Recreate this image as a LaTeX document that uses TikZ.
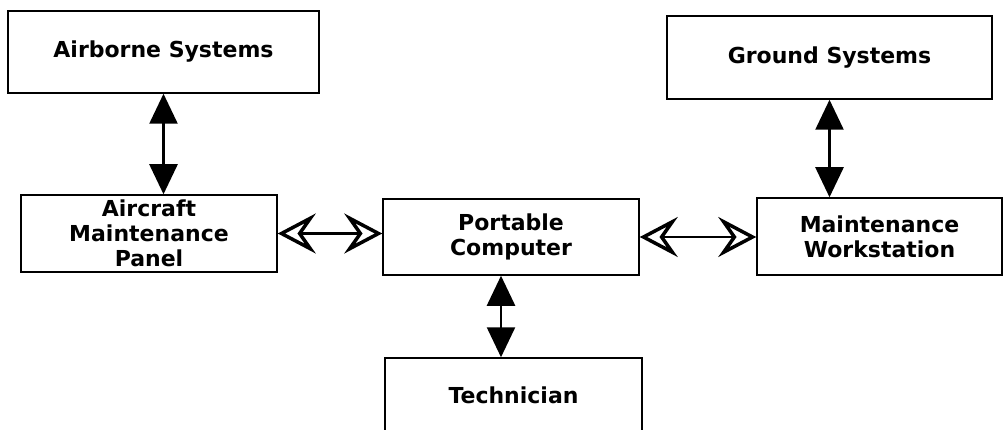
\documentclass[tikz,border=0pt]{standalone}
\usepackage{fontspec}
\setmainfont{DejaVu Sans}
\usetikzlibrary{arrows.meta}

\begin{document}
\begin{tikzpicture}[x=1pt,y=1pt]
% Draw the frame
\path[use as bounding box,fill=white] (0,0) rectangle (1003,429);
\clip (0,0) rectangle (1003,429);
\tikzstyle{unitbox}=[draw, line width=1.5pt, align=center, inner sep=0pt, font=\bfseries\fontsize{22}{25}\selectfont]
\tikzstyle{solidlink}=[line width=2.5pt, {Triangle[length=30pt,width=28pt]}-{Triangle[length=30pt,width=28pt]}]
\tikzstyle{openlink}=[line width=2.5pt, {Stealth[open,line width=3.5pt,length=38pt,width=40pt,inset=14pt]}-{Stealth[open,line width=3.5pt,length=38pt,width=40pt,inset=14pt]}]

% the boxes -- top row
\node[unitbox, minimum width=311pt, minimum height=82pt] (air) at (163.5,377) {Airborne Systems};
\node[unitbox, minimum width=325pt, minimum height=83pt] (gnd) at (829.5,371.5) {Ground Systems};

% the boxes -- middle row
\node[unitbox, minimum width=256pt, minimum height=77pt] (amp) at (149,195.5) {Aircraft\\Maintenance\\Panel};
\node[unitbox, minimum width=256pt, minimum height=76pt] (pc) at (511,192) {Portable\\Computer};
\node[unitbox, minimum width=245pt, minimum height=77pt] (mw) at (879.5,192.5) {Maintenance\\Workstation};

% the boxes -- bottom
\node[unitbox, minimum width=257pt, minimum height=74pt] (tech) at (513.5,34) {Technician};

% Draw the links
\draw[solidlink] (air.south) -- (air.south |- amp.north);
\draw[solidlink] (gnd.south) -- (gnd.south |- mw.north);
\draw[solidlink] ([xshift=-10pt]pc.south) -- ([xshift=-10pt]pc.south |- tech.north);
\draw[openlink] (amp.east) -- (amp.east -| pc.west);
\draw[openlink] (pc.east) -- (pc.east -| mw.west);
\end{tikzpicture}
\end{document}
